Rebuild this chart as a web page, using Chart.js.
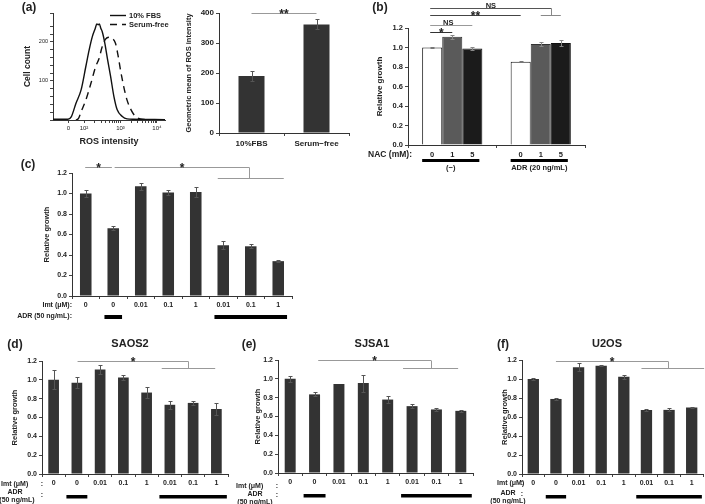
<!DOCTYPE html>
<html><head><meta charset="utf-8">
<script src="https://cdn.jsdelivr.net/npm/chart.js@4.4.1/dist/chart.umd.min.js"></script>
<style>
html,body{margin:0;padding:0;background:#fff;}
body{width:705px;height:504px;position:relative;overflow:hidden;}
canvas{position:absolute;left:0;top:0;}
</style></head><body>
<canvas id="cA1" width="705" height="504"></canvas>
<canvas id="cA2" width="705" height="504"></canvas>
<canvas id="cB" width="705" height="504"></canvas>
<canvas id="cC" width="705" height="504"></canvas>
<canvas id="cD" width="705" height="504"></canvas>
<canvas id="cE" width="705" height="504"></canvas>
<canvas id="cF" width="705" height="504"></canvas>
<script>
// ---------------- DATA ----------------
// (a) flow histogram (x = log-scaled ROS intensity position, y = cell count)
const histPosFBS   = [1.15,1.56,1.65,1.78,1.92,2.05,2.14,2.23,2.31,2.35,2.39,2.42,2.46,2.50,2.57,2.64,2.73,2.82,2.91,3.05,3.18,3.36,4.22];
const histCountFBS = [2,2,8,43,77,137,179,214,235,246,244,246,235,226,197,158,111,60,26,9,3,2,1];
const histPosSF    = [1.78,1.85,1.92,2.05,2.19,2.32,2.41,2.50,2.59,2.68,2.77,2.86,2.93,3.00,3.09,3.18,3.29,3.41,3.54,3.72];
const histCountSF  = [0,4,21,51,94,137,157,188,207,212,209,197,167,128,85,51,26,9,3,1];
const histTickPos  = [1.57,2,3,4];
const histTickText = ['0','10²','10³','10⁴'];
const histCountLabels = [100,200];
const histSeries   = ['10% FBS','Serum-free'];

// (a) geometric mean of ROS intensity
const rosGroups = ['10%FBS','Serum−free'];
const rosMean   = [190,362];
const rosErr    = [16,17];

// (b) NAC
const nacDoses   = ['0','1','5'];
const nacGroups  = ['(−)','ADR (20 ng/mL)'];
const nac0Growth = [1.00,0.855];
const nac1Growth = [1.11,1.035];
const nac5Growth = [0.99,1.045];
const nac0Err    = [0.008,0.005];
const nac1Err    = [0.018,0.022];
const nac5Err    = [0.018,0.032];

// (c)-(f) imatinib
const imtDoses = ['0','0','0.01','0.1','1','0.01','0.1','1'];
const adrFlags = [false,true,false,false,false,true,true,true];
const growthC  = [1.00,0.66,1.07,1.01,1.015,0.495,0.485,0.34];
const errC     = [0.035,0.02,0.035,0.02,0.05,0.04,0.02,0.01];
const growthSAOS2 = [1.00,0.97,1.11,1.025,0.865,0.735,0.755,0.69];
const errSAOS2    = [0.10,0.06,0.05,0.03,0.06,0.045,0.02,0.065];
const growthSJSA1 = [1.00,0.835,0.945,0.955,0.78,0.71,0.675,0.66];
const errSJSA1    = [0.03,0.02,0.0,0.09,0.04,0.02,0.02,0.01];
const growthU2OS  = [1.00,0.79,1.125,1.14,1.025,0.675,0.675,0.70];
const errU2OS     = [0.01,0.01,0.04,0.005,0.02,0.01,0.015,0.01];

// ---------------- HELPERS ----------------
const W = 705, H = 504;
const FONT = "'Liberation Sans', Arial, Helvetica, sans-serif";
const TXT = '#222';
function f(size, bold){ return (bold ? 'bold ' : '') + size + 'px ' + FONT; }
function layoutFor(a, yW, xH){
  return {padding:{left:a.l - yW, top:a.t, right:W - a.r, bottom:H - a.b - xH}};
}
function text(ctx, s, x, y, font, align, base, color){
  ctx.save(); ctx.font = font; ctx.fillStyle = color || TXT;
  ctx.textAlign = align || 'center'; ctx.textBaseline = base || 'middle';
  ctx.fillText(s, x, y); ctx.restore();
}
function yAxis(min, max, step, fmt, title, tSize, yW, tickSize, bold){
  return {
    min:min, max:max,
    ticks:{stepSize:step, callback:fmt, font:{family:FONT, size:tickSize||7.5, weight:bold===false?'normal':'bold'}, color:TXT, padding:2},
    grid:{drawOnChartArea:false, tickLength:3, color:'#444'},
    border:{color:'#333', width:1},
    title:{display:true, text:title, font:{family:FONT, size:tSize, weight:'bold'}, color:TXT, padding:0},
    afterFit:function(s){ s.width = yW; }
  };
}
function xCat(xH, show){
  return {
    ticks:{display:show!==false, autoSkip:false, maxRotation:0, font:{family:FONT, size:7.5, weight:'bold'}, color:TXT, padding:2},
    grid:{drawOnChartArea:false, tickLength:3, color:'#444'},
    border:{color:'#333', width:1},
    afterFit:function(s){ s.height = xH; }
  };
}
function drawErrors(chart, dsIndex, errs, color){
  const meta = chart.getDatasetMeta(dsIndex), ys = chart.scales.y, ctx = chart.ctx;
  const vals = chart.data.datasets[dsIndex].data;
  ctx.save(); ctx.strokeStyle = color || '#555'; ctx.lineWidth = 1;
  meta.data.forEach(function(bar, i){
    const e = errs[i]; if (!e) return;
    const x = Math.round(bar.x) + 0.5;
    const yt = Math.round(ys.getPixelForValue(vals[i] + e)) + 0.5;
    const yb = Math.round(ys.getPixelForValue(vals[i] - e)) + 0.5;
    ctx.beginPath();
    ctx.moveTo(x, yt); ctx.lineTo(x, yb);
    ctx.moveTo(x - 2, yt); ctx.lineTo(x + 2, yt);
    ctx.moveTo(x - 2, yb); ctx.lineTo(x + 2, yb);
    ctx.stroke();
  });
  ctx.restore();
}
function hline(ctx, x1, x2, y){ ctx.moveTo(x1, y); ctx.lineTo(x2, y); }
function star(ctx, s, x, y){ text(ctx, s, x, y + 4, f(12, true), 'center', 'alphabetic', '#222'); }
// significance bracket in data coordinates of category scale
function drawSig(chart, lines, color){
  const ctx = chart.ctx, xs = chart.scales.x, ys = chart.scales.y;
  ctx.save(); ctx.strokeStyle = color; ctx.lineWidth = 1;
  lines.forEach(function(l){
    const x1 = xs.getPixelForValue(l.from), x2 = xs.getPixelForValue(l.to);
    const y = Math.round(ys.getPixelForValue(l.y)) + 0.5;
    ctx.beginPath(); hline(ctx, x1, x2, y);
    if (l.drop){
      const y2 = Math.round(ys.getPixelForValue(l.drop.y)) + 0.5;
      const xv = Math.round(x2) + 0.5;
      ctx.moveTo(xv, y); ctx.lineTo(xv, y2);
      hline(ctx, xs.getPixelForValue(l.drop.from), xs.getPixelForValue(l.drop.to), y2);
    }
    ctx.stroke();
    if (l.label) star(ctx, l.label, (x1 + x2) / 2, y);
  });
  ctx.restore();
}
function drawAdrBars(chart, y, thick, half){
  const ctx = chart.ctx, xs = chart.scales.x;
  ctx.save(); ctx.fillStyle = '#000';
  let i = 0;
  while (i < adrFlags.length){
    if (adrFlags[i]){
      let j = i; while (j + 1 < adrFlags.length && adrFlags[j + 1]) j++;
      const x1 = xs.getPixelForValue(i - half), x2 = xs.getPixelForValue(j + half);
      ctx.fillRect(x1, y, x2 - x1, thick);
      i = j + 1;
    } else i++;
  }
  ctx.restore();
}

// ---------------- (a) histogram ----------------
const a1 = {l:53, r:165, t:13, b:120};
const minorTicks = [];
[2,3].forEach(function(d){ for (let k = 2; k <= 9; k++) minorTicks.push(d + Math.log10(k)); });
new Chart(document.getElementById('cA1'), {
  type:'line',
  data:{datasets:[
    {label:histSeries[0], data:histPosFBS.map(function(x,i){return {x:x, y:histCountFBS[i]};}),
     borderColor:'#111', borderWidth:1.4, pointRadius:0, cubicInterpolationMode:'monotone', fill:false},
    {label:histSeries[1], data:histPosSF.map(function(x,i){return {x:x, y:histCountSF[i]};}),
     borderColor:'#111', borderWidth:1.4, borderDash:[7,5], pointRadius:0, cubicInterpolationMode:'monotone', fill:false}
  ]},
  options:{
    responsive:false, animation:false, events:[],
    layout:layoutFor(a1, 30, 27),
    plugins:{legend:{display:false}, tooltip:{enabled:false}},
    scales:{
      x:{type:'linear', min:1.15, max:4.22,
         afterBuildTicks:function(s){ s.ticks = histTickPos.concat(minorTicks).map(function(v){return {value:v};}); },
         ticks:{autoSkip:false, maxRotation:0, font:{family:FONT, size:6}, color:TXT, padding:2,
                callback:function(v){ const k = histTickPos.indexOf(v); return k >= 0 ? histTickText[k] : ''; }},
         grid:{drawOnChartArea:false, tickLength:3, color:'#444'},
         border:{color:'#333'},
         title:{display:true, text:'ROS intensity', font:{family:FONT, size:9, weight:'bold'}, color:TXT, padding:0},
         afterFit:function(s){ s.height = 27; }},
      y:{min:0, max:274,
         ticks:{stepSize:20, font:{family:FONT, size:5.5}, color:TXT, padding:2, autoSkip:false,
                callback:function(v){ const r = Math.round(v); return histCountLabels.indexOf(r) >= 0 ? String(r) : ''; }},
         grid:{drawOnChartArea:false, tickLength:3, color:'#444'},
         border:{color:'#333'},
         title:{display:true, text:'Cell count', font:{family:FONT, size:8.5, weight:'bold'}, color:TXT, padding:0},
         afterFit:function(s){ s.width = 30; }}
    }
  },
  plugins:[{id:'a1extra', afterDraw:function(chart){
    const ctx = chart.ctx;
    text(ctx, '(a)', 29, 8, f(12, true));
    // legend
    chart.data.datasets.forEach(function(ds, i){
      const y = 15 + i * 9 + 0.5;
      ctx.save(); ctx.strokeStyle = ds.borderColor; ctx.lineWidth = 1.4;
      ctx.setLineDash(ds.borderDash || []);
      ctx.beginPath(); ctx.moveTo(110, y); ctx.lineTo(126, y); ctx.stroke(); ctx.restore();
      text(ctx, ds.label, 129, y, f(7.5, true), 'left');
    });
  }}]
});

// ---------------- (a) bar: geometric mean ----------------
const a2 = {l:219, r:349, t:13, b:133};
new Chart(document.getElementById('cA2'), {
  type:'bar',
  data:{labels:rosGroups, datasets:[{data:rosMean, backgroundColor:'#333', barPercentage:0.4, categoryPercentage:1}]},
  options:{
    responsive:false, animation:false, events:[],
    layout:layoutFor(a2, 35, 16),
    plugins:{legend:{display:false}, tooltip:{enabled:false}},
    scales:{
      x:Object.assign(xCat(16), {ticks:{autoSkip:false, maxRotation:0, font:{family:FONT, size:8, weight:'bold'}, color:TXT, padding:3}}),
      y:yAxis(0, 400, 100, function(v){return String(v);}, 'Geometric mean of ROS intensity', 7.5, 35, 8)
    }
  },
  plugins:[{id:'a2extra', afterDraw:function(chart){
    drawErrors(chart, 0, rosErr, '#555');
    const ctx = chart.ctx, meta = chart.getDatasetMeta(0), ys = chart.scales.y;
    const y = Math.round(ys.getPixelForValue(400)) + 0.5;
    ctx.save(); ctx.strokeStyle = '#999'; ctx.lineWidth = 1; ctx.beginPath();
    hline(ctx, meta.data[0].x, meta.data[1].x, y); ctx.stroke(); ctx.restore();
    star(ctx, '**', (meta.data[0].x + meta.data[1].x) / 2, y);
  }}]
});

// ---------------- (b) NAC ----------------
const bA = {l:408, r:585, t:28, b:145};
new Chart(document.getElementById('cB'), {
  type:'bar',
  data:{labels:nacGroups, datasets:[
    {label:nacDoses[0], data:nac0Growth, backgroundColor:'#ffffff', borderColor:'#111', borderWidth:1, borderSkipped:'bottom'},
    {label:nacDoses[1], data:nac1Growth, backgroundColor:'#5a5a5a', borderColor:'#333', borderWidth:1, borderSkipped:'bottom'},
    {label:nacDoses[2], data:nac5Growth, backgroundColor:'#1b1b1b', borderColor:'#111', borderWidth:1, borderSkipped:'bottom'}
  ]},
  options:{
    responsive:false, animation:false, events:[],
    datasets:{bar:{barPercentage:1, categoryPercentage:0.68}},
    layout:layoutFor(bA, 33, 12),
    plugins:{legend:{display:false}, tooltip:{enabled:false}},
    scales:{
      x:xCat(12, false),
      y:yAxis(0, 1.2, 0.2, function(v){return v.toFixed(1);}, 'Relative growth', 8, 33, 7.5)
    }
  },
  plugins:[{id:'bextra', afterDraw:function(chart){
    const ctx = chart.ctx, ys = chart.scales.y;
    drawErrors(chart, 0, nac0Err, '#777');
    drawErrors(chart, 1, nac1Err, '#888');
    drawErrors(chart, 2, nac5Err, '#888');
    text(ctx, '(b)', 380, 8, f(12, true));
    const bx = function(g, d){ return chart.getDatasetMeta(d).data[g].x; };
    // dose labels and group bars
    nacGroups.forEach(function(gname, g){
      nacDoses.forEach(function(dose, d){ text(ctx, dose, bx(g, d), 155, f(7.5, true)); });
      const b0 = chart.getDatasetMeta(0).data[g], b2 = chart.getDatasetMeta(2).data[g];
      const x1 = b0.x - b0.width / 2, x2 = b2.x + b2.width / 2 - 3;
      ctx.save(); ctx.fillStyle = '#000'; ctx.fillRect(x1, 159, x2 - x1, 3); ctx.restore();
      text(ctx, gname, (x1 + x2) / 2, 167.5, f(7.5, true));
    });
    text(ctx, 'NAC (mM):', 412, 155, f(8.5, true), 'right');
    // significance
    const py = function(v){ return Math.round(ys.getPixelForValue(v)) + 0.5; };
    const xs0 = bx(0, 0) - 2;
    ctx.save(); ctx.lineWidth = 1;
    const yTop = py(1.405), yMid = py(1.333);
    const xv = Math.round((bx(1,1) + bx(1,2)) / 2) + 0.5;
    ctx.strokeStyle = '#555'; ctx.beginPath(); hline(ctx, xs0, xv, yTop); ctx.stroke();
    ctx.strokeStyle = '#888'; ctx.beginPath(); ctx.moveTo(xv, yTop); ctx.lineTo(xv, yMid);
    hline(ctx, bx(1,1), bx(1,2), yMid); ctx.stroke();
    ctx.strokeStyle = '#444'; ctx.beginPath(); hline(ctx, xs0, bx(1,0), yMid); ctx.stroke();
    const yNS = py(1.231);
    ctx.strokeStyle = '#999'; ctx.beginPath(); hline(ctx, xs0, bx(0,2), yNS); ctx.stroke();
    const yS = py(1.159);
    ctx.strokeStyle = '#333'; ctx.beginPath(); hline(ctx, xs0, bx(0,1), yS); ctx.stroke();
    ctx.restore();
    text(ctx, 'NS', (xs0 + xv) / 2, yTop - 1, f(7.5, true), 'center', 'alphabetic');
    star(ctx, '**', (xs0 + bx(1,0)) / 2, yMid);
    text(ctx, 'NS', (xs0 + bx(0,2)) / 2 - 3, yNS - 1, f(7.5, true), 'center', 'alphabetic');
    star(ctx, '*', (xs0 + bx(0,1)) / 2, yS);
  }}]
});

// ---------------- (c)-(f) imatinib panels ----------------
function imtPanel(id, area, yW, vals, errs, barPct, extraDraw){
  new Chart(document.getElementById(id), {
    type:'bar',
    data:{labels:imtDoses, datasets:[{data:vals, backgroundColor:'#333', barPercentage:barPct, categoryPercentage:1}]},
    options:{
      responsive:false, animation:false, events:[],
      layout:layoutFor(area, yW, 14),
      plugins:{legend:{display:false}, tooltip:{enabled:false}},
      scales:{
        x:Object.assign(xCat(14), {ticks:{autoSkip:false, maxRotation:0, font:{family:FONT, size:7, weight:'bold'}, color:TXT, padding:2}}),
        y:yAxis(0, 1.2, 0.2, function(v){return v.toFixed(1);}, 'Relative growth', 7.5, yW, 7)
      }
    },
    plugins:[{id:id + 'extra', afterDraw:function(chart){
      drawErrors(chart, 0, errs, '#555');
      extraDraw(chart, chart.ctx);
    }}]
  });
}

// (c)
imtPanel('cC', {l:72, r:292, t:173, b:296}, 30, growthC, errC, 0.42, function(chart, ctx){
  text(ctx, '(c)', 28, 165, f(12, true));
  text(ctx, 'Imt (μM):', 72, 305, f(7, true), 'right');
  text(ctx, 'ADR (50 ng/mL):', 72, 316.5, f(7, true), 'right');
  drawAdrBars(chart, 315, 4, 0.32);
  drawSig(chart, [
    {from:-0.02, to:0.95, y:1.261, label:'*'},
    {from:1.05, to:5.95, y:1.261, label:'*', drop:{y:1.148, from:4.8, to:7.2}}
  ], '#999');
});

// (d) SAOS2
imtPanel('cD', {l:42, r:228, t:361, b:474}, 32, growthSAOS2, errSAOS2, 0.46, function(chart, ctx){
  text(ctx, '(d)', 15, 345, f(12, true));
  text(ctx, 'SAOS2', 130, 344, f(11, true));
  text(ctx, 'Imt (μM)', 1, 484, f(7, true), 'left');
  text(ctx, ':', 42, 484, f(7, true));
  text(ctx, 'ADR', 15, 492, f(7, true));
  text(ctx, '(50 ng/mL)', 17, 500.5, f(7, true));
  text(ctx, ':', 42, 495, f(7, true));
  drawAdrBars(chart, 495, 3.5, 0.45);
  drawSig(chart, [
    {from:1.03, to:5.8, y:1.2, label:'*', drop:{y:1.126, from:4.65, to:6.95}}
  ], '#999');
});

// (e) SJSA1
imtPanel('cE', {l:278, r:473, t:360, b:473}, 25, growthSJSA1, errSJSA1, 0.45, function(chart, ctx){
  text(ctx, '(e)', 249, 345, f(12, true));
  text(ctx, 'SJSA1', 372, 344, f(11, true));
  text(ctx, 'Imt (μM)', 236, 486, f(7, true), 'left');
  text(ctx, ':', 277, 486, f(7, true));
  text(ctx, 'ADR', 255, 494, f(7, true));
  text(ctx, '(50 ng/mL)', 255, 502, f(7, true));
  text(ctx, ':', 277, 495, f(7, true));
  drawAdrBars(chart, 494, 3.5, 0.45);
  drawSig(chart, [
    {from:1.15, to:5.78, y:1.2, label:'*', drop:{y:1.115, from:4.63, to:6.89}}
  ], '#999');
});

// (f) U2OS
imtPanel('cF', {l:522, r:703, t:360, b:474}, 22, growthU2OS, errU2OS, 0.5, function(chart, ctx){
  text(ctx, '(f)', 503, 345, f(12, true));
  text(ctx, 'U2OS', 607, 344, f(11, true));
  text(ctx, 'Imt (μM)', 497, 483, f(7, true), 'left');
  text(ctx, ':', 522, 483, f(7, true));
  text(ctx, 'ADR', 508, 493, f(7, true));
  text(ctx, '(50 ng/mL)', 508, 501, f(7, true));
  text(ctx, ':', 522, 494, f(7, true));
  drawAdrBars(chart, 495, 3.5, 0.45);
  drawSig(chart, [
    {from:1, to:5.97, y:1.19, label:'*', drop:{y:1.115, from:4.78, to:7.55}}
  ], '#999');
});
</script>
</body></html>
